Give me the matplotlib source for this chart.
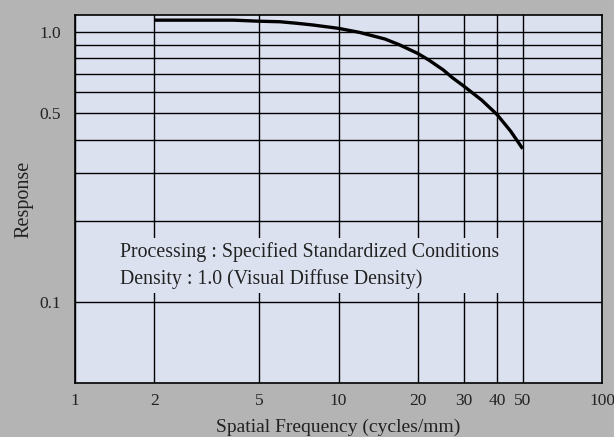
import matplotlib
matplotlib.use("Agg")
import matplotlib.pyplot as plt
from matplotlib.ticker import FixedLocator, FixedFormatter, NullFormatter

# Data
freq = [2, 3, 4, 5, 6, 7, 8, 10, 12, 15, 17, 20, 22, 25, 27, 30, 35, 40, 45, 50]
response = [1.11, 1.11, 1.11, 1.10, 1.095, 1.08, 1.065, 1.035, 1.0, 0.945, 0.9, 0.835,
            0.79, 0.725, 0.68, 0.63, 0.56, 0.495, 0.43, 0.37]

x_ticks = [1, 2, 5, 10, 20, 30, 40, 50, 100]
x_labels = ["1", "2", "5", "10", "20", "30", "40", "50", "100"]
y_ticks = [0.1, 0.5, 1.0]
y_labels = ["0.1", "0.5", "1.0"]
y_minor = [0.2, 0.3, 0.4, 0.6, 0.7, 0.8, 0.9]

note = "Processing : Specified Standardized Conditions\nDensity : 1.0 (Visual Diffuse Density)"

BG = "#b4b4b4"
AX = "#dce1f0"

plt.rcParams['font.family'] = ['Liberation Serif', 'DejaVu Serif']

fig = plt.figure(figsize=(6.14, 4.37), dpi=100, facecolor=BG)
ax = fig.add_axes([75/614, 1-383/437, 527/614, 368/437], facecolor=AX)

ax.set_xscale('log')
ax.set_yscale('log')
ax.set_xlim(1, 100)
ax.set_ylim(0.05, 1.16)

ax.xaxis.set_major_locator(FixedLocator(x_ticks))
ax.xaxis.set_major_formatter(FixedFormatter(x_labels))
ax.xaxis.set_minor_locator(FixedLocator([]))
ax.yaxis.set_major_locator(FixedLocator(y_ticks))
ax.yaxis.set_major_formatter(FixedFormatter(y_labels))
ax.yaxis.set_minor_locator(FixedLocator(y_minor))
ax.yaxis.set_minor_formatter(NullFormatter())

ax.grid(True, which='both', color='black', linewidth=1.0)
ax.set_axisbelow(True)
ax.tick_params(which='both', length=0, labelsize=12.5, colors='#222222')
ax.tick_params(axis='y', pad=10)
ax.tick_params(axis='x', pad=7)

for s in ax.spines.values():
    s.set_color('black')
    s.set_linewidth(1.2)

ax.plot(freq, response, color='black', linewidth=2.4, solid_capstyle='butt', zorder=3)

ax.text(0.0854, 0.319, note, transform=ax.transAxes, fontsize=14.3, va='center', ha='left',
        color='#222222', linespacing=1.5,
        bbox=dict(facecolor=AX, edgecolor='none', pad=3), zorder=4)

ax.set_xlabel("Spatial Frequency (cycles/mm)", fontsize=14, color='#222222', labelpad=7)
ax.set_ylabel("Response", fontsize=14.5, color='#222222', labelpad=4)

fig.savefig("out.png", dpi=100, facecolor=BG)
